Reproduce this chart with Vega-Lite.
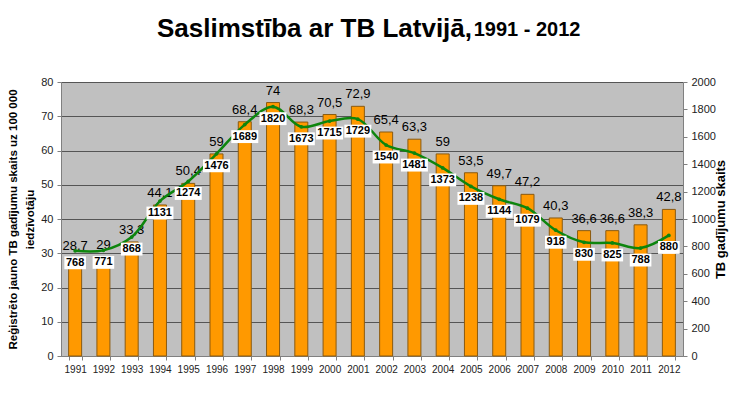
{
  "$schema": "https://vega.github.io/schema/vega-lite/v6.json",
  "width": 622,
  "height": 274,
  "autosize": {"type": "none"},
  "padding": {"left": 61, "top": 82, "right": 46, "bottom": 49},
  "background": "white",
  "config": {
    "font": "Liberation Sans",
    "view": {"fill": "#c0c0c0", "stroke": null},
    "locale": {"number": {"decimal": ",", "thousands": " ", "grouping": [3], "currency": ["", ""]}},
    "axis": {"labelFont": "Liberation Sans", "titleFont": "Liberation Sans", "domainColor": "#808080", "tickColor": "#808080", "labelColor": "#222222", "titleColor": "#000000"}
  },
  "title": {
    "text": "Saslimstība ar TB Latvijā,",
    "subtitle": "\u200d\u00a0\u00a0\u00a0\u00a0\u00a0\u00a0\u00a0\u00a0\u00a0\u00a0\u00a0\u00a0\u00a0\u00a0\u00a0\u00a0\u00a0\u00a0\u00a0\u00a0\u00a0\u00a0\u00a0\u00a0\u00a0\u00a0\u00a0\u00a0\u00a0\u00a0\u00a0\u00a0\u00a0\u00a0\u00a0\u00a0\u00a0\u00a0\u00a0\u00a0\u00a0\u00a0\u00a0\u00a0\u00a0\u00a0\u00a0\u00a0\u00a0\u00a0\u00a0\u00a0\u00a0\u00a0\u00a0\u00a0\u00a01991 - 2012",
    "anchor": "start",
    "frame": "group",
    "dx": 96,
    "offset": 34,
    "font": "Liberation Sans",
    "fontSize": 26,
    "fontWeight": "bold",
    "color": "#000000",
    "subtitleFont": "Liberation Sans",
    "subtitleFontSize": 20,
    "subtitleFontWeight": "bold",
    "subtitleColor": "#000000",
    "subtitlePadding": -22
  },
  "data": {
    "values": [
      {"year": "1991", "rate": 28.7, "cases": 768},
      {"year": "1992", "rate": 29, "cases": 771},
      {"year": "1993", "rate": 33.3, "cases": 868},
      {"year": "1994", "rate": 44.1, "cases": 1131},
      {"year": "1995", "rate": 50.4, "cases": 1274},
      {"year": "1996", "rate": 59, "cases": 1476},
      {"year": "1997", "rate": 68.4, "cases": 1689},
      {"year": "1998", "rate": 74, "cases": 1820},
      {"year": "1999", "rate": 68.3, "cases": 1673},
      {"year": "2000", "rate": 70.5, "cases": 1715},
      {"year": "2001", "rate": 72.9, "cases": 1729},
      {"year": "2002", "rate": 65.4, "cases": 1540},
      {"year": "2003", "rate": 63.3, "cases": 1481},
      {"year": "2004", "rate": 59, "cases": 1373},
      {"year": "2005", "rate": 53.5, "cases": 1238},
      {"year": "2006", "rate": 49.7, "cases": 1144},
      {"year": "2007", "rate": 47.2, "cases": 1079},
      {"year": "2008", "rate": 40.3, "cases": 918},
      {"year": "2009", "rate": 36.6, "cases": 830},
      {"year": "2010", "rate": 36.6, "cases": 825},
      {"year": "2011", "rate": 38.3, "cases": 788},
      {"year": "2012", "rate": 42.8, "cases": 880}
    ]
  },
  "encoding": {
    "x": {
      "field": "year",
      "type": "ordinal",
      "scale": {"paddingInner": 0.54, "paddingOuter": 0.27},
      "axis": {"title": null, "labelAngle": 0, "labelFontSize": 10, "labelColor": "#222222", "tickBand": "extent", "tickSize": 4, "labelPadding": 4}
    }
  },
  "layer": [
    {
      "encoding": {
        "y": {
          "field": "rate",
          "type": "quantitative",
          "scale": {"domain": [0, 80], "nice": false},
          "axis": {
            "values": [0, 10, 20, 30, 40, 50, 60, 70, 80],
            "format": "d",
            "grid": true,
            "gridColor": "#555555",
            "gridWidth": 1,
            "tickSize": 4,
            "labelFontSize": 11,
            "labelPadding": 4,
            "title": ["Reģistrēto jauno TB gadījumu skaits uz 100 000", "iedzīvotāju"],
            "titleFontSize": 11.5,
            "titleFontWeight": "bold",
            "titlePadding": 5,
            "titleLineHeight": 17.5
          }
        }
      },
      "layer": [
        {
          "mark": {"type": "bar", "fill": "#ff9900", "stroke": "#8a5a10", "strokeWidth": 1}
        },
        {
          "mark": {"type": "text", "fontSize": 13, "color": "#000000", "baseline": "middle", "dy": -12},
          "encoding": {
            "text": {"field": "rate", "type": "quantitative", "format": "~g"}
          }
        }
      ]
    },
    {
      "encoding": {
        "y": {
          "field": "cases",
          "type": "quantitative",
          "scale": {"domain": [0, 2000], "nice": false},
          "axis": {
            "orient": "right",
            "values": [0, 200, 400, 600, 800, 1000, 1200, 1400, 1600, 1800, 2000],
            "format": "d",
            "grid": false,
            "tickSize": 4,
            "labelFontSize": 11,
            "labelPadding": 4,
            "title": "TB gadījumu skaits",
            "titleFontSize": 13,
            "titleFontWeight": "bold",
            "titleAngle": 270,
            "titlePadding": 12
          }
        }
      },
      "layer": [
        {
          "mark": {"type": "line", "color": "#0d850d", "strokeWidth": 2.5, "interpolate": "catmull-rom"}
        },
        {
          "mark": {"type": "point", "filled": true, "color": "#0d850d", "size": 14, "opacity": 1}
        },
        {
          "mark": {"type": "point", "filled": true, "fill": "#ffffff", "strokeWidth": 0, "opacity": 1, "size": 900},
          "encoding": {
            "shape": {
              "condition": {"test": "datum.cases >= 1000", "value": "M-0.9,0.37H0.9V1.23H-0.9Z"},
              "value": "M-0.72,0.37H0.72V1.23H-0.72Z"
            }
          }
        },
        {
          "mark": {"type": "text", "fontSize": 11, "fontWeight": "bold", "color": "#000000", "baseline": "middle", "dy": 12},
          "encoding": {
            "text": {"field": "cases", "type": "quantitative", "format": "d"}
          }
        }
      ]
    }
  ],
  "resolve": {"scale": {"y": "independent"}}
}
